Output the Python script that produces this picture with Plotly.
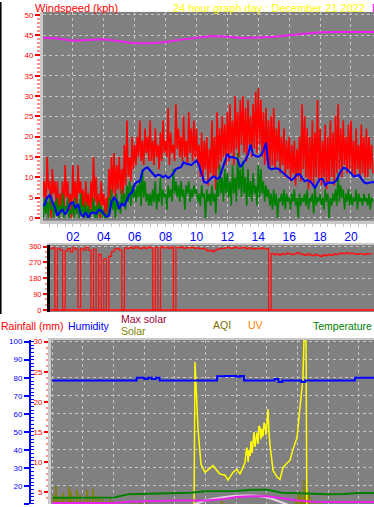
import numpy as np
import plotly.graph_objects as go

W, H = 374, 507

# ---------------- data ----------------
# wind gust (kph), 5-minute samples from 00:00
gust_kph = [
    13, 5, 9, 2, 15, 7, 9, 0, 12, 6, 9, 3,
    9, 0, 6, 3, 9, 1, 13, 5, 9, 2, 6, 0,
    13, 4, 9, 1, 13, 6, 9, 2, 7, 0, 9, 3,
    6, 0, 9, 2, 15, 4, 10, 1, 6, 0, 9, 3,
    6, 0, 5, 1, 12, 4, 15, 6, 16, 5, 13, 7,
    15, 6, 12, 5, 18, 8, 24, 10, 15, 9, 20, 12,
    18, 13, 20, 15, 24, 14, 19, 13, 22, 16, 20, 14,
    24, 14, 19, 13, 22, 15, 18, 12, 21, 14, 24, 16,
    19, 15, 27, 13, 21, 16, 18, 14, 28, 17, 22, 15,
    20, 14, 25, 15, 19, 13, 26, 16, 22, 14, 24, 15,
    22, 13, 18, 10, 21, 9, 19, 12, 20, 8, 17, 11,
    24, 10, 20, 7, 26, 12, 22, 14, 25, 15, 23, 13,
    26, 14, 28, 16, 24, 13, 30, 17, 26, 15, 29, 18,
    30, 16, 27, 14, 29, 18, 25, 15, 28, 17, 31, 16,
    32, 18, 29, 15, 26, 13, 27, 14, 24, 12, 25, 13,
    27, 12, 22, 14, 24, 11, 20, 13, 22, 10, 19, 12,
    20, 9, 18, 11, 19, 8, 17, 10, 20, 9, 28, 12,
    25, 10, 22, 7, 20, 9, 24, 8, 21, 10, 29, 9,
    22, 8, 19, 10, 23, 7, 20, 9, 24, 10, 21, 8,
    25, 11, 28, 12, 22, 10, 24, 13, 20, 11, 23, 12,
    24, 11, 19, 10, 22, 12, 18, 10, 23, 11, 20, 10,
    22, 10, 20, 12, 18, 11,
]
# wind speed (kph), 5-minute samples
speed_kph = [
    3, 0, 5, 1, 4, 0, 6, 2, 3, 0, 4, 1,
    5, 0, 3, 1, 6, 0, 3, 2, 5, 0, 2, 1,
    4, 0, 5, 1, 3, 0, 6, 1, 3, 0, 4, 0,
    3, 0, 2, 1, 5, 0, 3, 0, 4, 1, 3, 0,
    2, 0, 1, 0, 5, 1, 7, 2, 5, 0, 6, 2,
    4, 1, 7, 3, 6, 2, 8, 4, 9, 3, 8, 5,
    7, 4, 8, 5, 9, 3, 12, 5, 9, 4, 6, 3,
    6, 3, 7, 4, 9, 2, 6, 4, 10, 3, 7, 5,
    6, 2, 8, 5, 7, 4, 12, 6, 9, 5, 8, 4,
    9, 5, 7, 2, 8, 6, 9, 4, 7, 5, 8, 6,
    7, 4, 6, 3, 8, 5, 6, 0, 7, 4, 6, 3,
    8, 4, 6, 1, 9, 5, 13, 6, 10, 4, 12, 6,
    11, 5, 9, 3, 13, 6, 10, 4, 16, 7, 12, 5,
    14, 6, 10, 3, 12, 5, 9, 4, 11, 6, 8, 3,
    13, 5, 12, 6, 9, 4, 8, 5, 7, 3, 6, 2,
    7, 3, 6, 0, 5, 4, 6, 3, 7, 2, 6, 4,
    5, 2, 6, 4, 7, 3, 5, 0, 6, 3, 5, 4,
    6, 3, 7, 2, 5, 4, 6, 1, 8, 3, 5, 4,
    6, 3, 5, 2, 7, 4, 6, 0, 5, 3, 6, 4,
    7, 3, 11, 4, 8, 5, 7, 2, 6, 4, 7, 3,
    6, 3, 5, 4, 7, 2, 6, 4, 5, 3, 6, 4,
    5, 3, 6, 2, 5, 4,
]
# average wind speed (kph), 10-minute samples
avg_speed_kph = [
    3.0, 3.2, 5.0, 5.6, 4.0, 2.5, 0.5, 1.5, 2.0, 0.8,
    2.0, 3.5, 3.8, 2.4, 3.4, 1.0, 0.3, 1.4, 0.1, 1.2,
    1.3, 1.0, 2.0, 1.8, 1.0, 0.3, 0.5, 4.0, 5.0, 4.2,
    2.2, 3.5, 3.0, 4.5, 5.8, 6.3, 8.3, 8.9, 9.0, 11.5,
    12.2, 12.4, 11.7, 11.0, 10.2, 10.6, 10.5, 10.0, 10.4, 9.8,
    10.2, 11.0, 12.0, 12.3, 12.5, 13.7, 13.3, 13.2, 13.0, 13.6,
    14.1, 12.9, 10.8, 8.8, 8.6, 9.4, 10.0, 10.2, 9.6, 10.0,
    11.8, 14.0, 15.8, 14.9, 15.0, 14.8, 14.4, 12.5, 13.4, 14.2,
    15.5, 18.0, 15.5, 15.2, 15.0, 15.4, 16.5, 18.5, 12.4, 12.0,
    12.1, 12.2, 12.0, 11.4, 10.7, 10.3, 9.8, 9.3, 9.8, 10.7,
    10.8, 10.0, 9.0, 9.3, 9.0, 8.4, 7.3, 8.6, 9.6, 9.6,
    8.0, 8.7, 8.7, 8.6, 9.0, 10.0, 11.5, 12.3, 12.2, 11.7,
    11.0, 10.2, 10.3, 10.6, 9.6, 8.8, 8.5, 8.7, 8.8, 8.8,
]
# magenta trace on the wind panel (hourly, on the kph scale)
top_magenta = [44.4, 44.2, 43.6, 43.8, 44.0, 43.5, 43.0, 43.0, 43.3, 43.9,
               44.3, 44.8, 44.6, 44.3, 44.4, 44.6, 45.0, 45.4, 45.7, 45.8,
               45.8, 45.8, 45.8]
# wind direction (degrees), 10-minute samples
wind_dir_deg = [
    350, 345, 355, 348, 352, 0, 350, 340, 0, 335,
    348, 330, 352, 345, 15, 350, 340, 355, 338, 0,
    345, 0, 315, 0, 290, 0, 305, 330, 345, 350,
    340, 0, 352, 348, 355, 350, 358, 352, 348, 355,
    350, 357, 352, 0, 355, 0, 358, 352, 355, 350,
    356, 0, 355, 352, 356, 350, 354, 352, 355, 350,
    353, 348, 350, 345, 335, 338, 332, 340, 345, 350,
    348, 352, 355, 350, 353, 356, 350, 352, 355, 348,
    352, 350, 346, 350, 348, 352, 345, 348, 0, 320,
    315, 318, 312, 320, 316, 322, 318, 314, 320, 325,
    318, 315, 310, 318, 312, 308, 315, 310, 305, 312,
    308, 315, 310, 318, 314, 320, 322, 318, 325, 320,
    322, 318, 316, 320, 318, 315, 320, 318, 316,
]
# humidity (%), 15-minute samples
humidity_pct = [
    78.4, 78.4, 78.4, 78.4, 78.4, 78.4, 78.4, 78.4, 78.4, 78.4,
    78.4, 78.4, 78.4, 78.4, 78.4, 78.4, 78.4, 78.4, 78.4, 78.4,
    78.4, 78.4, 80.0, 80.0, 79.3, 80.0, 79.3, 80.0, 78.4, 78.4,
    78.4, 78.4, 78.4, 78.4, 78.4, 78.4, 78.4, 78.4, 78.4, 78.4,
    78.4, 78.4, 78.4, 80.8, 80.8, 81.0, 81.0, 81.0, 80.5, 81.0,
    78.4, 78.4, 78.4, 78.4, 78.4, 78.4, 78.4, 78.4, 79.3, 77.6,
    78.4, 78.4, 78.4, 78.4, 78.4, 77.6, 78.4, 78.4, 78.4, 78.4,
    78.4, 78.4, 78.4, 78.4, 78.4, 78.4, 78.4, 78.4, 78.4, 80.0,
    80.0, 80.0, 80.0, 80.0, 80.0,
]
# hourly lower-panel lines (read on the rainfall scale)
temperature_line = [4.06, 4.06, 4.06, 4.06, 4.1, 4.67, 4.7, 4.84, 4.84, 4.9, 5.16,
                    5.16, 5.2, 5.38, 5.38, 4.9, 4.84, 4.67, 4.67, 4.7, 4.84, 4.84]
magenta_low = [3.2, 3.2, 3.2, 3.2, 3.2, 3.4, 3.5, 3.6, 3.6, 3.6, 3.6,
               3.8, 4.2, 4.3, 4.3, 4.0, 3.6, 3.4, 3.35, 3.35, 3.35, 3.35]
rain_mm = [0, 0, 0, 0, 0, 0, 0, 0, 0, 0, 0, 0, 0, 0, 0, 0, 0, 0, 0, 0, 0, 0]
solar_hours = [0.0, 9.24, 9.31, 9.41, 9.44, 9.50, 9.70, 9.83, 9.96, 10.29, 10.48,
               10.74, 10.94, 11.27, 11.46, 11.79, 12.05, 12.24, 12.57, 12.63, 12.70,
               12.77, 12.83, 12.90, 12.96, 13.03, 13.09, 13.16, 13.22, 13.29, 13.35,
               13.42, 13.48, 13.55, 13.61, 13.68, 13.74, 13.81, 13.87, 13.94, 14.00,
               14.07, 14.13, 14.20, 14.40, 14.66, 14.85, 15.05, 15.31, 15.51, 15.70,
               15.96, 16.09, 16.29, 16.35, 16.42, 16.55, 16.61, 21.0]
solar_vals = [0, 0, 26.6, 20.0, 18.5, 15.7, 9.6, 8.8, 8.3, 9.0, 9.4,
              8.6, 8.0, 7.8, 7.0, 8.3, 8.8, 8.0, 9.9, 11.5, 12.4,
              10.0, 12.0, 11.0, 13.5, 11.5, 12.9, 15.0, 12.5, 14.5, 14.9,
              13.0, 16.0, 15.7, 13.8, 15.5, 14.2, 16.5, 16.2, 14.5, 17.0,
              18.8, 15.0, 12.9, 8.6, 7.5, 7.1, 9.1, 9.8, 10.3, 12.1,
              14.0, 17.3, 22.3, 24.0, 30.5, 30.5, 0, 0]
maxsolar_hours = [9.3, 9.96, 10.6, 11.27, 11.92, 12.7, 13.35, 13.87, 14.33, 14.85, 15.37]
maxsolar_vals = [3.0, 3.6, 3.95, 4.2, 4.4, 4.46, 4.4, 4.2, 3.9, 3.4, 2.9]
aqi_hours = [0.11, 0.24, 0.37, 0.57, 0.70, 0.89, 1.09, 1.22, 1.41, 1.61, 1.81, 2.07,
             2.26, 2.46, 2.65, 2.85, 3.05, 3.24, 3.50, 3.76, 3.96, 4.22, 5.26, 5.72,
             6.18, 11.07, 15.90, 16.03, 16.16, 16.29, 16.42, 16.55, 16.68, 16.80,
             16.93, 17.13, 17.46]
aqi_vals = [4.5, 6.0, 4.0, 3.8, 4.8, 4.2, 5.8, 5.0, 4.0, 5.3, 4.5, 3.7,
            5.3, 4.3, 5.6, 4.4, 3.8, 4.2, 3.6, 3.8, 3.5, 3.4, 3.3, 3.4,
            3.3, 3.6, 3.8, 4.6, 5.2, 4.2, 7.0, 5.5, 4.8, 5.2, 4.0, 3.5, 3.4]
hour_ticks = [2, 4, 6, 8, 10, 12, 14, 16, 18, 20]
hour_labels = ["02", "04", "06", "08", "10", "12", "14", "16", "18", "20"]
dir_ticks = [0, 90, 180, 270, 360]

# ---------------- time axes ----------------
t5 = np.arange(len(gust_kph)) / 12.0
t5s = np.arange(len(speed_kph)) / 12.0
t10 = np.arange(len(avg_speed_kph)) / 6.0
t_top_mag = np.arange(len(top_magenta))
t_dir = np.arange(len(wind_dir_deg)) / 6.0
t_hum = np.arange(len(humidity_pct)) / 4.0
t_hourly = np.arange(len(temperature_line))
t_hourly_m = np.arange(len(magenta_low))
t_rain = np.arange(len(rain_mm))


def fx(p):
    return p / W


def fy(p):
    return 1 - p / H


FONT = "Liberation Sans, Arial, sans-serif"
GRID = "#c4c4c4"
BORDER = "#c8c8c8"

fig = go.Figure()

# ---- panel 1: wind speed ----
fig.add_trace(go.Scatter(x=t5, y=gust_kph, mode="lines", line=dict(color="#ff0000", width=1.6),
                         name="Gust", xaxis="x", yaxis="y"))
fig.add_trace(go.Scatter(x=t5s, y=speed_kph, mode="lines", line=dict(color="#008000", width=1.6),
                         name="Speed", xaxis="x", yaxis="y"))
fig.add_trace(go.Scatter(x=t10, y=avg_speed_kph, mode="lines", line=dict(color="#0000ff", width=2),
                         name="Average", xaxis="x", yaxis="y"))
fig.add_trace(go.Scatter(x=t_top_mag, y=top_magenta, mode="lines", line=dict(color="#ee22ee", width=2),
                         name="Barometer", xaxis="x", yaxis="y"))

# ---- panel 2: wind direction ----
fig.add_trace(go.Scatter(x=t_dir, y=wind_dir_deg, mode="lines", line=dict(color="#ff1010", width=1.3, shape="hv"),
                         name="Direction", xaxis="x2", yaxis="y2"))

# ---- panel 3 ----
fig.add_trace(go.Bar(x=aqi_hours, y=aqi_vals, width=0.08, marker=dict(color="#808000", line=dict(width=0)),
                     opacity=0.9, name="AQI", xaxis="x3", yaxis="y3"))
fig.add_trace(go.Scatter(x=t_rain, y=rain_mm, mode="lines", line=dict(color="#ff0000", width=2),
                         name="Rainfall", xaxis="x3", yaxis="y3"))
fig.add_trace(go.Scatter(x=solar_hours, y=solar_vals, mode="lines", line=dict(color="#ffff00", width=1.5),
                         name="Solar", xaxis="x3", yaxis="y3"))
fig.add_trace(go.Scatter(x=maxsolar_hours, y=maxsolar_vals, mode="lines", line=dict(color="#e0d4e0", width=2),
                         name="Max solar", xaxis="x3", yaxis="y3"))
fig.add_trace(go.Scatter(x=t_hourly, y=temperature_line, mode="lines", line=dict(color="#008000", width=2),
                         name="Temperature", xaxis="x3", yaxis="y3"))
fig.add_trace(go.Scatter(x=t_hourly_m, y=magenta_low, mode="lines", line=dict(color="#ee22ee", width=2),
                         name="Dew", xaxis="x3", yaxis="y3"))
fig.add_trace(go.Scatter(x=t_hum, y=humidity_pct, mode="lines", line=dict(color="#0000ff", width=2, shape="hv"),
                         name="Humidity", xaxis="x3", yaxis="y4"))

fig.update_traces(hoverinfo="skip", showlegend=False)

ann_items = [
    ("Windspeed (kph)", 33, 6, "#ff0000", 11),
    ("24 hour graph day : December 21 2022", 171, 6, "#ffff00", 11),
    ("Barometer", 370, 6, "#ff00ff", 11),
    ("Rainfall (mm)", -1, 327, "#ff0000", 10.5),
    ("Humidity", 66, 327, "#0000ff", 10.5),
    ("Max solar", 119, 320, "#990033", 10.5),
    ("Solar", 119, 332, "#808000", 10.5),
    ("AQI", 211, 326, "#807000", 10.5),
    ("UV", 246, 326, "#ff8000", 10.5),
    ("Temperature", 311, 327, "#008000", 10.5),
]
annotations = [dict(text=t, x=fx(x), y=fy(y), xref="paper", yref="paper", xanchor="left",
                    yanchor="middle", showarrow=False, font=dict(family=FONT, size=s, color=c))
               for t, x, y, c, s in ann_items]

fig.update_layout(
    width=W, height=H, autosize=False,
    margin=dict(l=0, r=0, t=0, b=0, pad=0),
    paper_bgcolor="#ffffff", plot_bgcolor="#808080",
    font=dict(family=FONT),
    showlegend=False, bargap=0,
    annotations=annotations,
    shapes=[dict(type="line", xref="paper", yref="paper", x0=0.0015, x1=0.0015, y0=1, y1=fy(315),
                 line=dict(color="#000000", width=2))],
    xaxis=dict(domain=[fx(43), 1], range=[0.065, 21.49], anchor="y",
               tickmode="array", tickvals=hour_ticks, ticktext=hour_labels,
               tickfont=dict(color="#0000ff", size=12, family=FONT),
               ticks="outside", ticklen=3, tickcolor="#c0c0c0", tickwidth=1, ticklabelstandoff=0,
               showline=True, linecolor=BORDER, linewidth=3,
               showgrid=True, gridcolor=GRID, griddash="dot", gridwidth=1, zeroline=False,
               minor=dict(tickmode="linear", tick0=0, dtick=0.5, ticks="outside", ticklen=3,
                          tickcolor="#c0c0c0", showgrid=False)),
    yaxis=dict(domain=[fy(221), fy(10)], range=[-0.73, 50.73], anchor="x",
               tickmode="linear", tick0=0, dtick=5,
               tickfont=dict(color="#ff0000", size=8, family=FONT),
               ticks="outside", ticklen=5, tickwidth=2, tickcolor="#ff0000",
               showline=True, linecolor=BORDER, linewidth=3,
               showgrid=True, gridcolor=GRID, griddash="dot", gridwidth=1, zeroline=False,
               minor=dict(tickmode="linear", tick0=0, dtick=1, ticks="outside", ticklen=3, tickwidth=2,
                          tickcolor="#ff9090", showgrid=False)),
    xaxis2=dict(domain=[fx(50), 1], range=[0.518, 21.49], anchor="y2", side="top",
                showticklabels=False, ticks="", showgrid=False, zeroline=False,
                showline=True, linecolor=BORDER, linewidth=2),
    yaxis2=dict(domain=[fy(313), fy(245)], range=[-11.25, 371.25], anchor="x2",
                tickmode="array", tickvals=dir_ticks,
                tickfont=dict(color="#ff0000", size=7.5, family=FONT),
                ticks="outside", ticklen=4, tickwidth=2, tickcolor="#ff0000",
                showline=True, linecolor="#000000", linewidth=3,
                showgrid=True, gridcolor=GRID, griddash="dot", gridwidth=1,
                zeroline=True, zerolinecolor="#ff2020", zerolinewidth=2,
                minor=dict(tickmode="linear", tick0=0, dtick=30, ticks="outside", ticklen=2, tickwidth=2,
                           tickcolor="#ff9090", showgrid=False)),
    xaxis3=dict(domain=[fx(51), 1], range=[-0.085, 20.985], anchor="y3", side="top",
                tickmode="linear", tick0=0, dtick=2, showticklabels=False, ticks="",
                showgrid=True, gridcolor=GRID, griddash="dot", gridwidth=1, zeroline=False,
                showline=True, linecolor=BORDER, linewidth=2),
    yaxis3=dict(domain=[0, fy(341)], range=[3.03, 30.33], anchor="x3",
                tickmode="linear", tick0=0, dtick=5,
                tickfont=dict(color="#ff0000", size=8, family=FONT),
                ticks="outside", ticklen=4, tickwidth=2, tickcolor="#ff0000",
                showline=True, linecolor=BORDER, linewidth=3,
                showgrid=False, zeroline=False,
                minor=dict(tickmode="linear", tick0=0, dtick=1, ticks="outside", ticklen=2, tickwidth=2,
                           tickcolor="#ff9090", showgrid=False)),
    yaxis4=dict(overlaying="y3", anchor="free", position=fx(30), side="left",
                range=[9.99, 101.1], tickmode="linear", tick0=0, dtick=10,
                tickfont=dict(color="#0000ff", size=8, family=FONT),
                ticks="outside", ticklen=5, tickwidth=2, tickcolor="#0000ff",
                showline=True, linecolor="#0000ff", linewidth=2,
                showgrid=True, gridcolor=GRID, griddash="dot", gridwidth=1, zeroline=False,
                minor=dict(tickmode="linear", tick0=0, dtick=2, ticks="inside", ticklen=3, tickwidth=1,
                           tickcolor="#0000ff", showgrid=False)),
)

fig.write_html("out.html", config={"displayModeBar": False, "staticPlot": True},
               post_script="document.body.style.margin='0';")
